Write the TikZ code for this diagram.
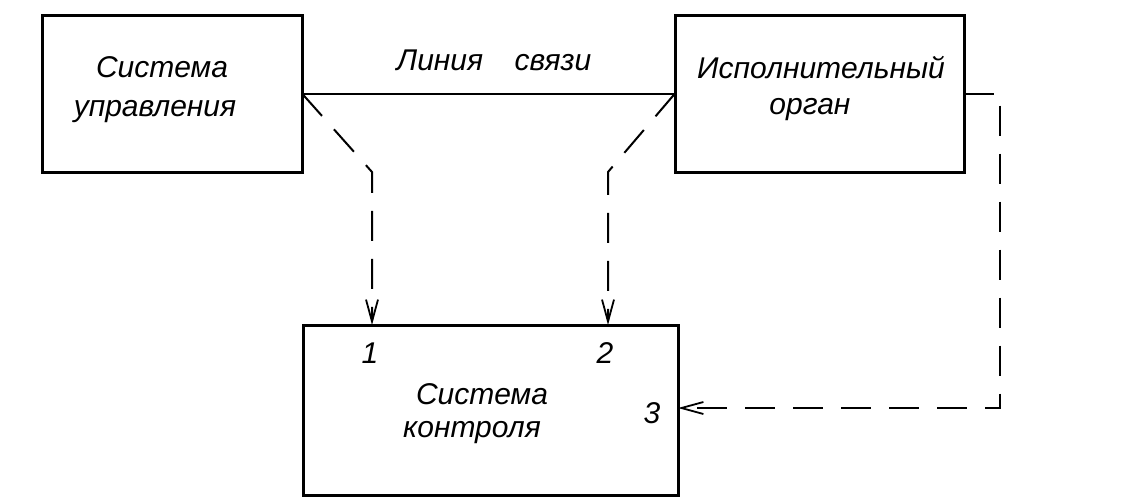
\documentclass[tikz,border=0pt]{standalone}
\usepackage{fontspec}
\setmainfont{Liberation Sans}
\usetikzlibrary{arrows.meta}
\begin{document}
\begin{tikzpicture}[x=0.5pt,y=-0.5pt,
  blk/.style={draw,line width=1.5pt,inner sep=0pt,outer sep=0pt},
  lbl/.style={font=\fontsize{15}{20}\selectfont\itshape,inner sep=0pt},
  conn/.style={line width=1pt},
  dashconn/.style={line width=1pt,dash pattern=on 15pt off 9pt},
  arr/.style={-{Straight Barb[length=11pt,width=6pt,line width=0.9pt]}}]
\useasboundingbox (0,0) rectangle (1132,504);
% blocks
\node[blk,minimum width=130pt,minimum height=78.5pt] (su) at (172,93.5) {};
\node[blk,minimum width=144.5pt,minimum height=78.5pt] (io) at (819.5,93.5) {};
\node[blk,minimum width=187.5pt,minimum height=85pt] (sk) at (490.5,410) {};
% texts
\node[lbl] (t1a) at (162,67) {Система};
\node[lbl] (t1b) at (155,112) {управления};
\node[lbl] (t2a) at (821,68) {Исполнительный};
\node[lbl] (t2b) at (810,110) {орган};
\node[lbl] (t3a) at (482,394) {Система};
\node[lbl] (t3b) at (472,433) {контроля};
\node[lbl] (ls) at (494,60) {Линия\hspace{1.05em}связи};
\node[lbl] (n1) at (370,353) {1};
\node[lbl] (n2) at (605,353) {2};
\node[lbl] (n3) at (652,413) {3};
% connectors
\draw[conn] (su.east) -- (io.west);
\coordinate (b1) at (372,172);
\coordinate (b2) at (608,172);
\coordinate (c3) at (1000,408);
\draw[dashconn,arr] (su.east) -- (b1) -- (b1 |- sk.north);
\draw[dashconn,arr] (io.west) -- (b2) -- (b2 |- sk.north);
\draw[dashconn,arr] (io.east) -| (c3) -- (c3 -| sk.east);
\end{tikzpicture}
\end{document}
